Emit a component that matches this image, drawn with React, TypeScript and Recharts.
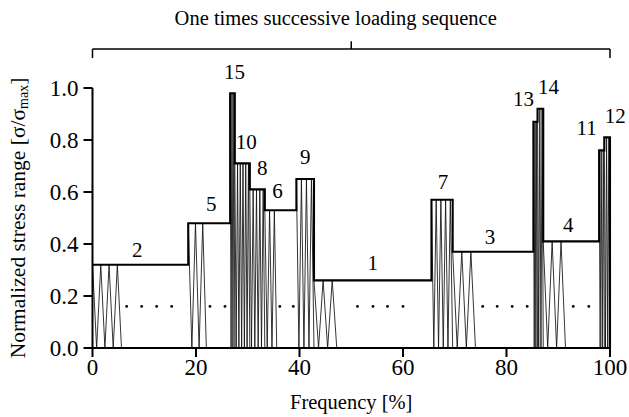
import { ComposedChart, Line, Scatter, XAxis, YAxis, ReferenceLine, ReferenceDot, Label } from "recharts";

// loading blocks in sequence order: start [%], normalized stress level, block number
const blockStart = [0, 18.5, 26.6, 27.5, 30.4, 33.3, 39.4, 42.8, 65.5, 69.6, 85.2, 86.0, 87.1, 97.9, 98.9];
const blockLevel = [0.32, 0.48, 0.98, 0.71, 0.61, 0.53, 0.65, 0.26, 0.57, 0.37, 0.87, 0.92, 0.41, 0.76, 0.81];
const blockLabel = ["2", "5", "15", "10", "8", "6", "9", "1", "7", "3", "13", "14", "4", "11", "12"];
// where the drawn cycles of each block stop, and how many are drawn
const cycleEnd = [5.6, 22.0, 27.5, 30.4, 33.3, 35.6, 42.8, 47.2, 69.6, 74.0, 86.0, 87.1, 91.4, 98.9, 100];
const cycleCount = [4, 3, 3, 6, 5, 3, 4, 3, 5, 3, 3, 3, 3, 3, 3];
// "..." marks for the omitted cycles
const dotX = [6.6, 9.5, 12.4, 15.3, 22.7, 25.6, 36.2, 38.8, 51.2, 54.2, 57.0, 60.0, 75.4, 78.2, 81.1, 84.0, 92.9, 95.9];
const dotLevel = 0.16;

const xTicks = [0, 20, 40, 60, 80, 100];
const yTicks = [0, 0.2, 0.4, 0.6, 0.8, 1.0];

// label nudges in px: [dx, height above the block top]
const labelNudge: Record<string, [number, number]> = {
  "2": [-3, 15], "5": [2, 19], "15": [2, 21], "10": [4, 21], "8": [5, 21], "6": [-3, 19],
  "9": [0, 22], "1": [0, 17], "7": [1, 18], "3": [-3, 15], "13": [-12, 23], "14": [8, 22],
  "4": [-3, 16], "11": [-15, 22], "12": [8, 21],
};

const FONT = "'Liberation Serif', 'Times New Roman', serif";
const blockEnd = (i: number) => (i + 1 < blockStart.length ? blockStart[i + 1] : 100);

const envelope = [
  ...blockStart.map((x, i) => ({ x, y: blockLevel[i] })),
  { x: 100, y: 0 },
];

// triangle wave from the block top down to zero, ending at the bottom
const cycles = blockStart.map((x0, i) => {
  const halves = 2 * cycleCount[i] - 1;
  const step = (cycleEnd[i] - x0) / halves;
  const pts = [];
  for (let k = 0; k <= halves; k++) pts.push({ x: x0 + k * step, y: k % 2 === 0 ? blockLevel[i] : 0 });
  return pts;
});

const dots = dotX.map((x) => ({ x, y: dotLevel }));
const labels = blockStart.map((x, i) => ({ x: (x + blockEnd(i)) / 2, y: blockLevel[i], name: blockLabel[i] }));

const BlockLabel = (props: any) => {
  const { cx, cy, payload } = props;
  const [dx, up] = labelNudge[payload.name];
  return (
    <text x={cx + dx} y={cy - up + 7} textAnchor="middle" fontSize={21} fontFamily={FONT} fill="#000">
      {payload.name}
    </text>
  );
};

const Dot = (props: any) => <circle cx={props.cx} cy={props.cy} r={1.4} fill="#000" />;

const YTitle = (props: any) => {
  const { viewBox } = props;
  const cx = 18;
  const cy = viewBox.y + viewBox.height / 2;
  return (
    <text
      x={cx}
      y={cy}
      transform={`rotate(-90, ${cx}, ${cy})`}
      textAnchor="middle"
      dominantBaseline="central"
      fontSize={21.5}
      fontFamily={FONT}
      fill="#000"
    >
      Normalized  stress  range [σ/σ<tspan dy={5} fontSize={14}>max</tspan><tspan dy={-5}>]</tspan>
    </text>
  );
};

const XTitle = (props: any) => {
  const { viewBox } = props;
  return (
    <text x={viewBox.x + viewBox.width / 2} y={viewBox.y + 61} textAnchor="middle" fontSize={20.5} fontFamily={FONT} fill="#000">
      Frequency [%]
    </text>
  );
};

const axisStroke = { stroke: "#000", strokeWidth: 2 };
const tickStyle = { fill: "#000", fontSize: 23, fontFamily: FONT };

export default function App() {
  return (
    <div style={{ position: "absolute", left: 0, top: 0, background: "#fff" }}>
      <ComposedChart width={629} height={417} margin={{ top: 88, right: 19, bottom: 0, left: 0 }}>
        <XAxis
          type="number"
          dataKey="x"
          domain={[0, 100]}
          ticks={xTicks}
          height={69}
          tickSize={9}
          axisLine={axisStroke}
          tickLine={axisStroke}
          tick={tickStyle}
        >
          <Label content={XTitle} />
        </XAxis>
        <YAxis
          type="number"
          domain={[0, 1]}
          ticks={yTicks}
          width={92.5}
          tickSize={9}
          tickMargin={5}
          tickFormatter={(v: number) => v.toFixed(1)}
          axisLine={axisStroke}
          tickLine={axisStroke}
          tick={tickStyle}
        >
          <Label content={YTitle} />
        </YAxis>

        {cycles.map((pts, i) => (
          <Line
            key={blockLabel[i]}
            data={pts}
            dataKey="y"
            type="linear"
            stroke="#111"
            strokeWidth={0.85}
            dot={false}
            activeDot={false}
            isAnimationActive={false}
          />
        ))}
        <Line
          data={envelope}
          dataKey="y"
          type="stepAfter"
          stroke="#000"
          strokeWidth={2.1}
          dot={false}
          activeDot={false}
          isAnimationActive={false}
        />
        <Scatter data={dots} dataKey="y" shape={Dot} isAnimationActive={false} />
        <Scatter data={labels} dataKey="y" shape={BlockLabel} isAnimationActive={false} />

        {/* bracket spanning the whole sequence */}
        <ReferenceLine segment={[{ x: 0, y: 1.15 }, { x: 100, y: 1.15 }]} ifOverflow="visible" stroke="#000" strokeWidth={1.5} />
        <ReferenceLine segment={[{ x: 0, y: 1.15 }, { x: 0, y: 1.115 }]} ifOverflow="visible" stroke="#000" strokeWidth={1.5} />
        <ReferenceLine segment={[{ x: 100, y: 1.15 }, { x: 100, y: 1.115 }]} ifOverflow="visible" stroke="#000" strokeWidth={1.5} />
        <ReferenceLine segment={[{ x: 50, y: 1.15 }, { x: 50, y: 1.18 }]} ifOverflow="visible" stroke="#000" strokeWidth={1.5} />
        <ReferenceDot
          x={47}
          y={1.27}
          r={0}
          ifOverflow="visible"
          label={{ value: "One times  successive  loading  sequence", position: "center", fontSize: 20.5, fontFamily: FONT, fill: "#000" }}
        />
      </ComposedChart>
    </div>
  );
}
